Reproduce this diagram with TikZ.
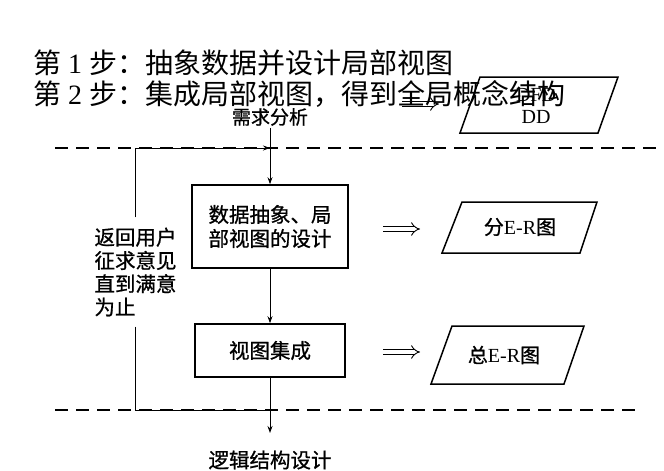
\documentclass[tikz,border=0pt]{standalone}
\usepackage{fontspec}
\setmainfont{Liberation Serif}
\newfontfamily\cjk{Noto Sans CJK SC}
\newfontfamily\cjkb[FakeBold=0.8]{Noto Sans CJK SC}
\usetikzlibrary{arrows.meta}
\newcommand\hfont{\fontsize{28}{32}\selectfont}
\newcommand\dtext{\fontsize{20.5}{24}\selectfont\cjkb}
\newcommand\ltext{\fontsize{20.5}{23.3}\selectfont\cjkb}
\newcommand\etext{\fontsize{20}{22}\selectfont}
\begin{document}
\begin{tikzpicture}[x=1pt,y=-1pt,
  box/.style={draw,line width=1.6pt,minimum width=156pt,minimum height=83pt,inner sep=0pt,align=center,font=\dtext},
  para/.style={draw,line width=1.5pt,line join=miter},
  arr/.style={line width=0.9pt,-{Stealth[length=7pt,width=5pt]}},
  conn/.style={line width=0.9pt},
  dashline/.style={line width=1.1pt,dash pattern=on 13pt off 8pt},
  implies/.style={double,double distance=3.8pt,line width=0.9pt,-{Implies}}]
\useasboundingbox (0,0) rectangle (664,471);
\fill[white] (0,0) rectangle (664,471);

% dashed separators
\draw[dashline] (55,148) -- (664,148);
\draw[dashline] (55,410) -- (641,410);

% main flow
\node[font=\fontsize{19}{22}\selectfont\cjkb,inner sep=2pt] (req) at (270,117) {需求分析};
\node[box] (b1) at (270,226.5) {数据抽象、局\\部视图的设计};
\node[box,minimum width=150pt,minimum height=53pt] (b2) at (270,350.5) {视图集成};
\node[font=\dtext,inner sep=0pt] (out) at (270,460) {逻辑结构设计};
\coordinate (endp) at (270,433);
\coordinate (tc) at (270,148);
\coordinate (bc) at (270,410);

\draw[arr] (req) -- (b1);
\draw[arr] (b1) -- (b2);
\draw[arr] (b2) -- (endp);

% feedback loop
\node[font=\ltext,align=left,inner xsep=0pt,inner ysep=10pt] (loop) at (135.5,272) {返回用户\\征求意见\\直到满意\\为止};
\draw[arr] (loop.north) |- (tc);
\draw[conn] (loop.south) |- (bc);

% implication arrows
\coordinate (a1s) at (383,229); \coordinate (a1e) at (420,229);
\coordinate (a2s) at (383,352); \coordinate (a2e) at (420,352);
\coordinate (a0s) at (402,104); \coordinate (a0e) at (439,104);
\draw[implies] (a1s) -- (a1e);
\draw[implies] (a2s) -- (a2e);
\draw[implies] (a0s) -- (a0e);

% outputs
\draw[para] (462,202) -- (597,202) -- (580,253) -- (442,253) -- cycle;
\node[font=\etext,inner sep=0pt] (er1) at (520,227) {{\cjkb 分}E-R{\cjkb 图}};
\draw[para] (452,326) -- (584,326) -- (564,384) -- (431,384) -- cycle;
\node[font=\etext,inner sep=0pt] (er2) at (504,355) {{\cjkb 总}E-R{\cjkb 图}};
\draw[para] (480,77) -- (618,77) -- (598,133) -- (460,133) -- cycle;
\node[font=\etext,align=center,inner sep=0pt] (dd) at (536,106) {DFD\\DD};

% headings
\node[font=\hfont,anchor=west,inner sep=0pt] (t1) at (33,63) {{\cjk 第} 1 {\cjk 步：抽象数据并设计局部视图}};
\node[font=\hfont,anchor=west,inner sep=0pt] (t2) at (33,94) {{\cjk 第} 2 {\cjk 步：集成局部视图，得到全局概念结构}};
\end{tikzpicture}
\end{document}
